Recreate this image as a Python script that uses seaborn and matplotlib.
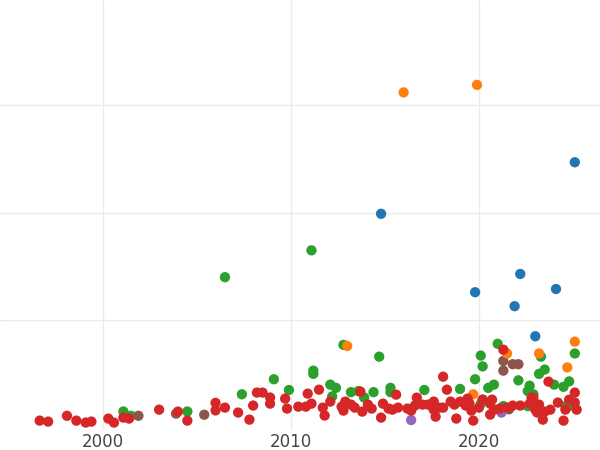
import matplotlib
matplotlib.use("Agg")
import matplotlib.pyplot as plt
import pandas as pd
import seaborn as sns

# Scatter values grouped by colour series
blue_x = [2025.1, 2014.8, 2022.2, 2019.8, 2024.1, 2021.9, 2023.0]
blue_y = [247, 199, 143, 126, 129, 113, 85]

orange_x = [2016.0, 2019.9, 2025.1, 2013.0, 2021.5, 2023.2, 2024.7, 2019.7]
orange_y = [312, 319, 80, 76, 69, 69, 56, 31]

green_x = [2006.5, 2011.1, 2012.8, 2014.7, 2025.1, 2021.0, 2020.1, 2020.2, 2023.3,
           2023.2, 2023.5, 2011.2, 2011.2, 2009.1, 2015.3, 2015.3, 2017.1, 2012.1,
           2012.4, 2013.2, 2013.6, 2014.4, 2013.9, 2012.2, 2007.4, 2009.9, 2019.0,
           2019.8, 2020.8, 2020.5, 2022.1, 2022.7, 2022.6, 2022.9, 2024.0, 2024.8,
           2024.5, 2001.1, 2001.5, 2004.5, 2020.2, 2021.3, 2022.6, 2025.0, 2024.6,
           2024.7, 2020.1]
green_y = [140, 165, 77, 66, 69, 78, 67, 57, 66, 50, 54, 53, 50, 45, 37, 33, 35, 40,
           37, 33, 34, 33, 28, 29, 31, 35, 36, 45, 40, 37, 44, 39, 34, 31, 40, 43,
           38, 15, 11, 15, 26, 20, 20, 21, 20, 19, 22]

brown_x = [2021.3, 2021.8, 2022.1, 2021.3, 2001.9, 2003.9, 2005.4, 2021.6]
brown_y = [62, 59, 59, 53, 11, 13, 12, 17]

purple_x = [2016.4, 2021.2]
purple_y = [7, 14]

red_x = [1996.65, 1997.1, 1998.1, 1998.6, 1999.1, 1999.4, 2000.3, 2000.6, 2001.1,
         2001.4, 2003.0, 2004.0, 2004.5, 2006.0, 2006.0, 2006.5, 2007.2, 2007.8,
         2008.0, 2008.2, 2008.5, 2008.9, 2008.9, 2009.7, 2009.8, 2010.4, 2010.8,
         2010.9, 2011.1, 2011.5, 2011.7, 2011.8, 2012.1, 2012.7, 2012.8, 2012.9,
         2013.2, 2013.4, 2013.7, 2013.8, 2014.1, 2014.3, 2014.8, 2014.9, 2015.2,
         2015.4, 2015.6, 2015.7, 2016.2, 2016.4, 2016.7, 2016.6, 2017.6, 2017.6,
         2017.7, 2017.9, 2018.1, 2018.1, 2018.3, 2018.5, 2018.7, 2018.8, 2019.0,
         2019.3, 2019.5, 2019.6, 2019.7, 2020.0, 2020.2, 2020.6, 2020.6, 2020.7,
         2020.8, 2021.1, 2021.3, 2021.5, 2021.8, 2022.2, 2022.7, 2022.8, 2023.0,
         2023.2, 2023.4, 2023.5, 2023.7, 2023.8, 2024.2, 2024.5, 2024.6, 2024.8,
         2025.1, 2025.1, 2025.2, 2019.4, 2017.0, 2017.3, 2023.1, 2022.9]
red_y = [6.5, 5.6, 11, 6.5, 4.7, 5.6, 8.4, 4.7, 9.3, 8.4, 16.7, 14.9, 6.5, 23, 16,
         18.6, 14, 7.4, 20.5, 32.6, 32.6, 28, 22.3, 27, 17.7, 19.5, 19.5, 31.6,
         22.3, 35.3, 18.6, 11.2, 24.2, 19.5, 15.8, 24.2, 21.4, 18.6, 33.5, 14.9,
         21.4, 17.7, 9.3, 22.3, 17.7, 16.7, 30.7, 18.6, 17.7, 15.8, 27.9, 20.5,
         24.2, 16.7, 10.2, 18.6, 47.4, 18.6, 35.3, 24.2, 21.4, 8.4, 24.2, 20.5,
         22.3, 15.8, 6.5, 18.6, 26, 12.1, 22.3, 26, 16.7, 17.7, 72.5, 18.6, 20.5,
         20.5, 22.3, 27.9, 16.7, 21.4, 7.4, 14.9, 42.8, 16.7, 23.3, 6.5, 16.7, 26,
         32.6, 23.3, 16.7, 27, 21.4, 21.4, 14, 27.9]

series = [
    ("green", green_x, green_y, "#2ca02c"),
    ("brown", brown_x, brown_y, "#8c564b"),
    ("purple", purple_x, purple_y, "#9467bd"),
    ("orange", orange_x, orange_y, "#ff7f0e"),
    ("red", red_x, red_y, "#d62728"),
    ("blue", blue_x, blue_y, "#1f77b4"),
]

frames = [pd.DataFrame({"year": xs, "value": ys, "group": name})
          for name, xs, ys, _ in series]
df = pd.concat(frames, ignore_index=True)
palette = {name: color for name, _, _, color in series}

sns.set_style("white")
fig = plt.figure(figsize=(6, 4.5), dpi=100)
ax = fig.add_axes([0, 0.045, 1, 0.955])

sns.scatterplot(data=df, x="year", y="value", hue="group", palette=palette,
                s=55, linewidth=0, alpha=1, legend=False, ax=ax)

ax.set_xlim(1994.54, 2026.44)
ax.set_ylim(-2, 398)
ax.set_xticks([2000, 2010, 2020])
ax.set_yticks([100, 200, 300])
ax.set_yticklabels([])
ax.grid(True, color="#ebebeb", linewidth=1)
ax.set_axisbelow(True)
for spine in ax.spines.values():
    spine.set_visible(False)
ax.tick_params(axis="x", length=0, labelsize=12, labelcolor="#444444", pad=2)
ax.tick_params(axis="y", length=0)
ax.set_xlabel("")
ax.set_ylabel("")

fig.savefig("out.png", dpi=100)
